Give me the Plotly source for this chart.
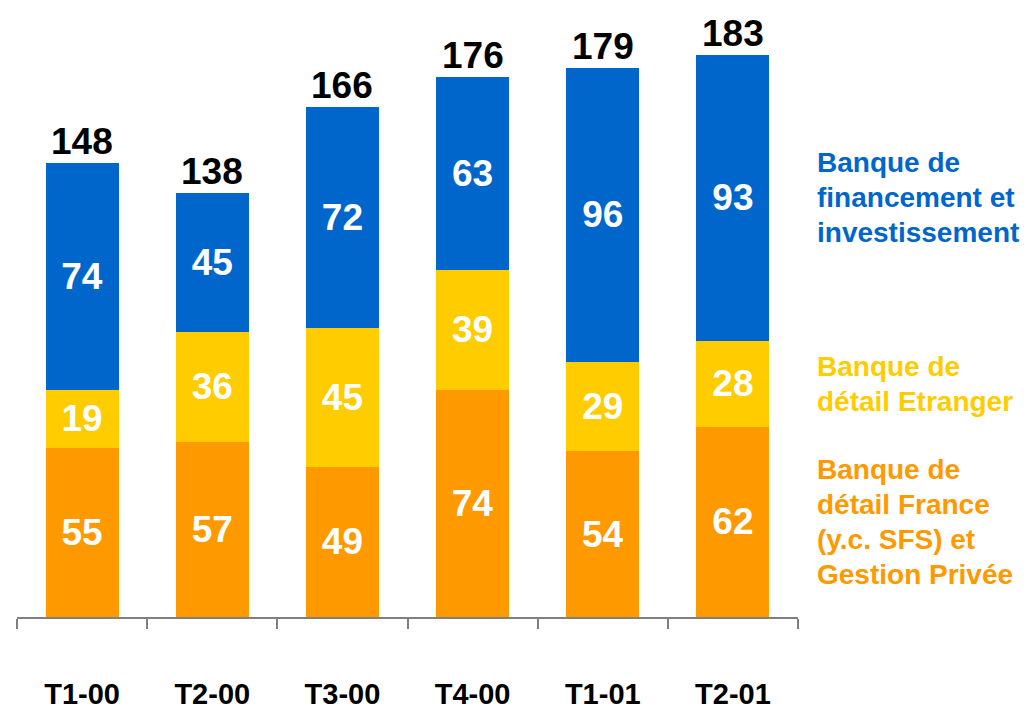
"""Stacked quarterly bars by business line."""
import plotly.graph_objects as go

quarters = ["T1-00", "T2-00", "T3-00", "T4-00", "T1-01", "T2-01"]
france = [55, 57, 49, 74, 54, 62]
etranger = [19, 36, 45, 39, 29, 28]
bfi = [74, 45, 72, 63, 96, 93]
totals = [148, 138, 166, 176, 179, 183]

series = [
    (["Banque de", "détail France", "(y.c. SFS) et", "Gestion Privée"], france, "#FF9900"),
    (["Banque de", "détail Etranger"], etranger, "#FFCC00"),
    (["Banque de", "financement et", "investissement"], bfi, "#0066CC"),
]

FONT = "Liberation Sans, Arial, sans-serif"
LINE_H = 35

fig = go.Figure()
for lines, vals, color in series:
    fig.add_trace(
        go.Bar(
            x=quarters,
            y=vals,
            name=" ".join(lines),
            marker=dict(color=color, line=dict(width=0)),
            text=vals,
            textposition="inside",
            insidetextanchor="middle",
            textangle=0,
            textfont=dict(family=FONT, size=37, color="white", weight="bold"),
            width=0.56,
        )
    )

# totals above the bars
for q, t in zip(quarters, totals):
    fig.add_annotation(
        x=q, y=t, text=str(t), showarrow=False, yanchor="bottom", yshift=-1,
        font=dict(family=FONT, size=37, color="black", weight="bold"),
    )

# side labels, aligned with the segments of the last bar (one annotation per line)
base = 0
for lines, vals, color in series:
    mid = base + vals[-1] / 2
    n = len(lines)
    for i, line in enumerate(lines):
        fig.add_annotation(
            xref="paper", x=1.022, xanchor="left", y=mid, yanchor="middle",
            yshift=((n - 1) / 2 - i) * LINE_H,
            text=line, showarrow=False, align="left",
            font=dict(family=FONT, size=28, color=color, weight="bold"),
        )
    base += vals[-1]

fig.update_layout(
    barmode="stack",
    width=1030,
    height=711,
    margin=dict(l=9, r=240, t=11, b=70),
    paper_bgcolor="white",
    plot_bgcolor="white",
    showlegend=False,
)
fig.update_xaxes(
    showline=True, linecolor="#808080", linewidth=1.5,
    ticks="outside", tickson="boundaries", ticklen=10, tickcolor="#808080", tickwidth=1.5,
    ticklabelstandoff=50,
    tickfont=dict(family=FONT, size=29, color="black", weight="bold"),
    showgrid=False,
)
fig.update_yaxes(visible=False, range=[0, 194.8], showgrid=False)

fig.write_html("out.html")
